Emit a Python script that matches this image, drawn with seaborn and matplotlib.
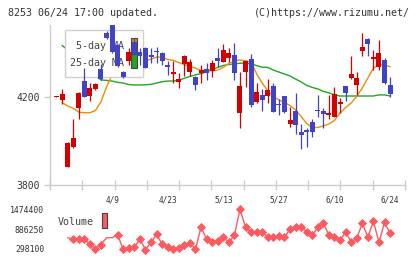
import numpy as np
import pandas as pd
import matplotlib
matplotlib.use('Agg')
import matplotlib.pyplot as plt
from matplotlib.patches import Rectangle
import seaborn as sns

# Daily candles, 61 trading days (3/26 .. 6/24)
opens = [4200, 4186, 3882, 3973, 4147, 4271, 4203, 4235, 4326, 4491,
         4530, 4435, 4314, 4362, 4447, 4402, 4421, 4390, 4408, 4397,
         4344, 4301, 4265, 4347, 4314, 4291, 4308, 4326, 4318, 4376,
         4359, 4375, 4390, 4127, 4314, 4371, 4177, 4208, 4203, 4249,
         4167, 4203, 4076, 4136, 4038, 4049, 4084, 4140, 4135, 4117,
         4109, 4165, 4249, 4286, 4253, 4409, 4462, 4371, 4336, 4367,
         4253]
highs = [4205, 4234, 3995, 4097, 4222, 4329, 4261, 4262, 4349, 4500,
         4550, 4440, 4318, 4423, 4467, 4423, 4425, 4420, 4424, 4402,
         4362, 4362, 4306, 4388, 4371, 4294, 4342, 4352, 4367, 4420,
         4438, 4420, 4443, 4314, 4365, 4394, 4261, 4234, 4279, 4264,
         4190, 4205, 4152, 4218, 4076, 4058, 4099, 4208, 4147, 4208,
         4245, 4193, 4250, 4385, 4314, 4488, 4465, 4412, 4458, 4375,
         4291]
lows = [4200, 4165, 3880, 3968, 4097, 4198, 4180, 4232, 4278, 4460,
        4400, 4336, 4284, 4344, 4390, 4344, 4330, 4353, 4355, 4342,
        4299, 4262, 4241, 4295, 4294, 4230, 4260, 4276, 4290, 4336,
        4358, 4358, 4276, 4059, 4245, 4155, 4173, 4136, 4173, 4130,
        4117, 4125, 4064, 4030, 3962, 3973, 4018, 4109, 4056, 4097,
        4108, 4125, 4182, 4280, 4208, 4386, 4386, 4321, 4321, 4256,
        4200]
closes = [4205, 4214, 3991, 4014, 4217, 4200, 4241, 4259, 4280, 4468,
          4405, 4341, 4291, 4403, 4393, 4386, 4332, 4382, 4401, 4362,
          4333, 4314, 4280, 4385, 4359, 4253, 4321, 4306, 4352, 4364,
          4412, 4397, 4309, 4249, 4362, 4164, 4223, 4185, 4230, 4132,
          4164, 4132, 4094, 4071, 4026, 4038, 4041, 4137, 4121, 4126,
          4212, 4177, 4218, 4303, 4286, 4425, 4440, 4382, 4397, 4261,
          4212]

ma5 = [np.nan, 4173, 4158, 4147, 4130, 4127, 4127, 4137, 4177, 4244,
       4299, 4326, 4340, 4349, 4355, 4360, 4362, 4371, 4380, 4380,
       4369, 4365, 4355, 4346, 4337, 4330, 4317, 4324, 4317, 4321,
       4333, 4351, 4362, 4367, 4362, 4358, 4303, 4262, 4226, 4201,
       4185, 4174, 4160, 4140, 4110, 4078, 4060, 4060, 4067, 4076,
       4092, 4126, 4151, 4171, 4201, 4240, 4285, 4330, 4346, 4344,
       4336]
ma25 = [np.nan, 4433, 4412, 4390, 4367, 4344, 4321, 4296, 4276, 4274,
        4271, 4265, 4262, 4255, 4253, 4253, 4254, 4256, 4262, 4268,
        4271, 4271, 4274, 4284, 4292, 4299, 4305, 4312, 4324, 4333,
        4342, 4346, 4349, 4352, 4352, 4349, 4341, 4334, 4333, 4321,
        4312, 4303, 4294, 4280, 4267, 4251, 4242, 4235, 4224, 4217,
        4208, 4203, 4203, 4203, 4203, 4203, 4203, 4203, 4208, 4208,
        4203]

volume = [np.nan, np.nan, 633000, 585500, 585500, 585500, 446000, 298100, 431000, 633000,
          633000, 713000, 289000, 342500, 348500, 585500, 283000, 490700, 736600, 437400,
          366300, 289000, 318800, 416600, 476000, 289000, 950000, 585500, 514400, 544000,
          653700, 496600, 704000, 1474400, 941100, 792900, 792900, 792900, 662500, 644800,
          674400, 644800, 884800, 958900, 941100, 810700, 712900, 941100, 1059600, 712900,
          644800, 564800, 792900, 514400, 615100, 1059600, 653700, 1118900, 496600, 1089300,
          763300]
no_marker = [2, 9, 10]

date_pos = [10, 20, 30, 40, 50, 60]
date_labels = ['4/9', '4/23', '5/13', '5/27', '6/10', '6/24']
price_ticks = [3800, 4200]
vol_ticks = [298100, 886250, 1474400]

UP = '#d40000'
DOWN = '#4044c4'
C_MA5 = '#f08c0a'
C_MA25 = '#1ea81e'
C_VOL = '#ff5a60'
GRID = '#cccccc'
TXT = '#333333'

sns.set_style('white')
plt.rcParams['font.family'] = ['DejaVu Sans Mono', 'DejaVu Sans']

W, H = 420, 259
XL = (-1.169, 62.68)


def px_box(x0, y0, x1, y1):
    # pixel box (top-left origin) -> figure fraction [l, b, w, h]
    return [x0 / W, 1 - y1 / H, (x1 - x0) / W, (y1 - y0) / H]


def make_chart():
    fig = plt.figure(figsize=(W / 100, H / 100), dpi=100)
    ax = fig.add_axes(px_box(50, 24.7, 405, 184.7))
    axv = fig.add_axes(px_box(50, 209.3, 405, 249))

    df = pd.DataFrame({'i': np.arange(len(opens)), 'open': opens, 'high': highs,
                       'low': lows, 'close': closes, 'ma5': ma5, 'ma25': ma25,
                       'volume': volume})
    df['up'] = df['close'] >= df['open']
    colors = np.where(df['up'], UP, DOWN)

    # moving averages
    sns.lineplot(data=df, x='i', y='ma25', color=C_MA25, lw=1.0, ax=ax, zorder=2)
    sns.lineplot(data=df, x='i', y='ma5', color=C_MA5, lw=1.0, ax=ax, zorder=2)

    # candles
    ax.vlines(df['i'], df['low'], df['high'], colors=colors, lw=0.9, zorder=4)
    body_lo = np.minimum(df['open'], df['close'])
    body_h = np.maximum(np.abs(df['close'] - df['open']), 4.5)
    ax.bar(df['i'], body_h, bottom=body_lo, width=0.9, color=colors,
           linewidth=0, zorder=4)

    ax.set_xlim(*XL)
    ax.set_ylim(3800, 4527)
    ax.set_xlabel('')
    ax.set_ylabel('')
    for s in ['top', 'right']:
        ax.spines[s].set_visible(False)
    for s in ['left', 'bottom']:
        ax.spines[s].set_color(GRID)
        ax.spines[s].set_linewidth(1)
    ax.set_yticks(price_ticks)
    ax.set_yticklabels([str(t) for t in price_ticks])
    ax.tick_params(axis='y', length=4.5, width=1, color=GRID, pad=2.5,
                   labelsize=7, labelcolor=TXT, left=True)
    ax.set_xticks(date_pos)
    ax.set_xticklabels(date_labels)
    ax.set_xticks(np.linspace(XL[0], XL[1], 12), minor=True)
    ax.tick_params(axis='x', which='major', length=0, pad=7.5, labelsize=5.6,
                   labelcolor=TXT)
    ax.tick_params(axis='x', which='minor', length=6.8, width=1, color=GRID,
                   direction='inout', bottom=True)

    # legend box, drawn under the candles
    def ax_pt(px, py):
        return (px - 50) / 355, (184.7 - py) / 160

    x0, y0 = ax_pt(65, 77.3)
    x1, y1 = ax_pt(143.3, 30)
    ax.add_patch(Rectangle((x0, y0), x1 - x0, y1 - y0, transform=ax.transAxes,
                           facecolor='white', edgecolor='#d0d0d0', lw=1, zorder=3))
    for label, py, col, m0, m1 in [('5-day MA', 46, C_MA5, 37.7, 53),
                                   ('25-day MA', 62.7, C_MA25, 54.3, 68.3)]:
        tx, ty = ax_pt(124, py)
        ax.text(tx, ty, label, transform=ax.transAxes, ha='right', va='center',
                fontsize=7.2, color='#444444', zorder=3.5)
        mx0, my0 = ax_pt(131.3, m1)
        mx1, my1 = ax_pt(137.3, m0)
        ax.add_patch(Rectangle((mx0, my0), mx1 - mx0, my1 - my0,
                               transform=ax.transAxes, facecolor=col,
                               edgecolor='#444444', lw=0.8, zorder=3.5))

    # volume
    sns.lineplot(data=df, x='i', y='volume', color=C_VOL, lw=1.0, ax=axv)
    mk = df.drop(index=no_marker).dropna(subset=['volume'])
    sns.scatterplot(data=mk, x='i', y='volume', color=C_VOL, marker='D', s=22,
                    linewidth=0, ax=axv, clip_on=False, zorder=3)
    axv.set_xlim(*XL)
    axv.set_ylim(vol_ticks[0], vol_ticks[-1])
    axv.set_xlabel('')
    axv.set_ylabel('')
    for s in axv.spines.values():
        s.set_visible(False)
    axv.set_xticks([])
    axv.set_yticks(vol_ticks)
    axv.set_yticklabels([str(t) for t in vol_ticks])
    axv.tick_params(axis='y', length=0, pad=4.2, labelsize=5.9, labelcolor=TXT)
    for line in axv.get_lines():
        line.set_clip_on(False)

    fig.text(58 / W, 1 - 222.3 / H, 'Volume', ha='left', va='center',
             fontsize=7.2, color='#444444')
    fig.add_artist(Rectangle((101.7 / W, 1 - 228.3 / H), 5.6 / W, 15.3 / H,
                             transform=fig.transFigure, facecolor=C_VOL,
                             edgecolor='#444444', lw=0.8))

    # header
    fig.text(8 / W, 1 - 13 / H, '8253 06/24 17:00 updated.', ha='left',
             va='center', fontsize=7.2, color=TXT)
    fig.text(410 / W, 1 - 13 / H, '(C)https://www.rizumu.net/', ha='right',
             va='center', fontsize=7.2, color=TXT)

    fig.savefig('out.png', dpi=100)
    plt.close(fig)


if __name__ == '__main__':
    make_chart()
